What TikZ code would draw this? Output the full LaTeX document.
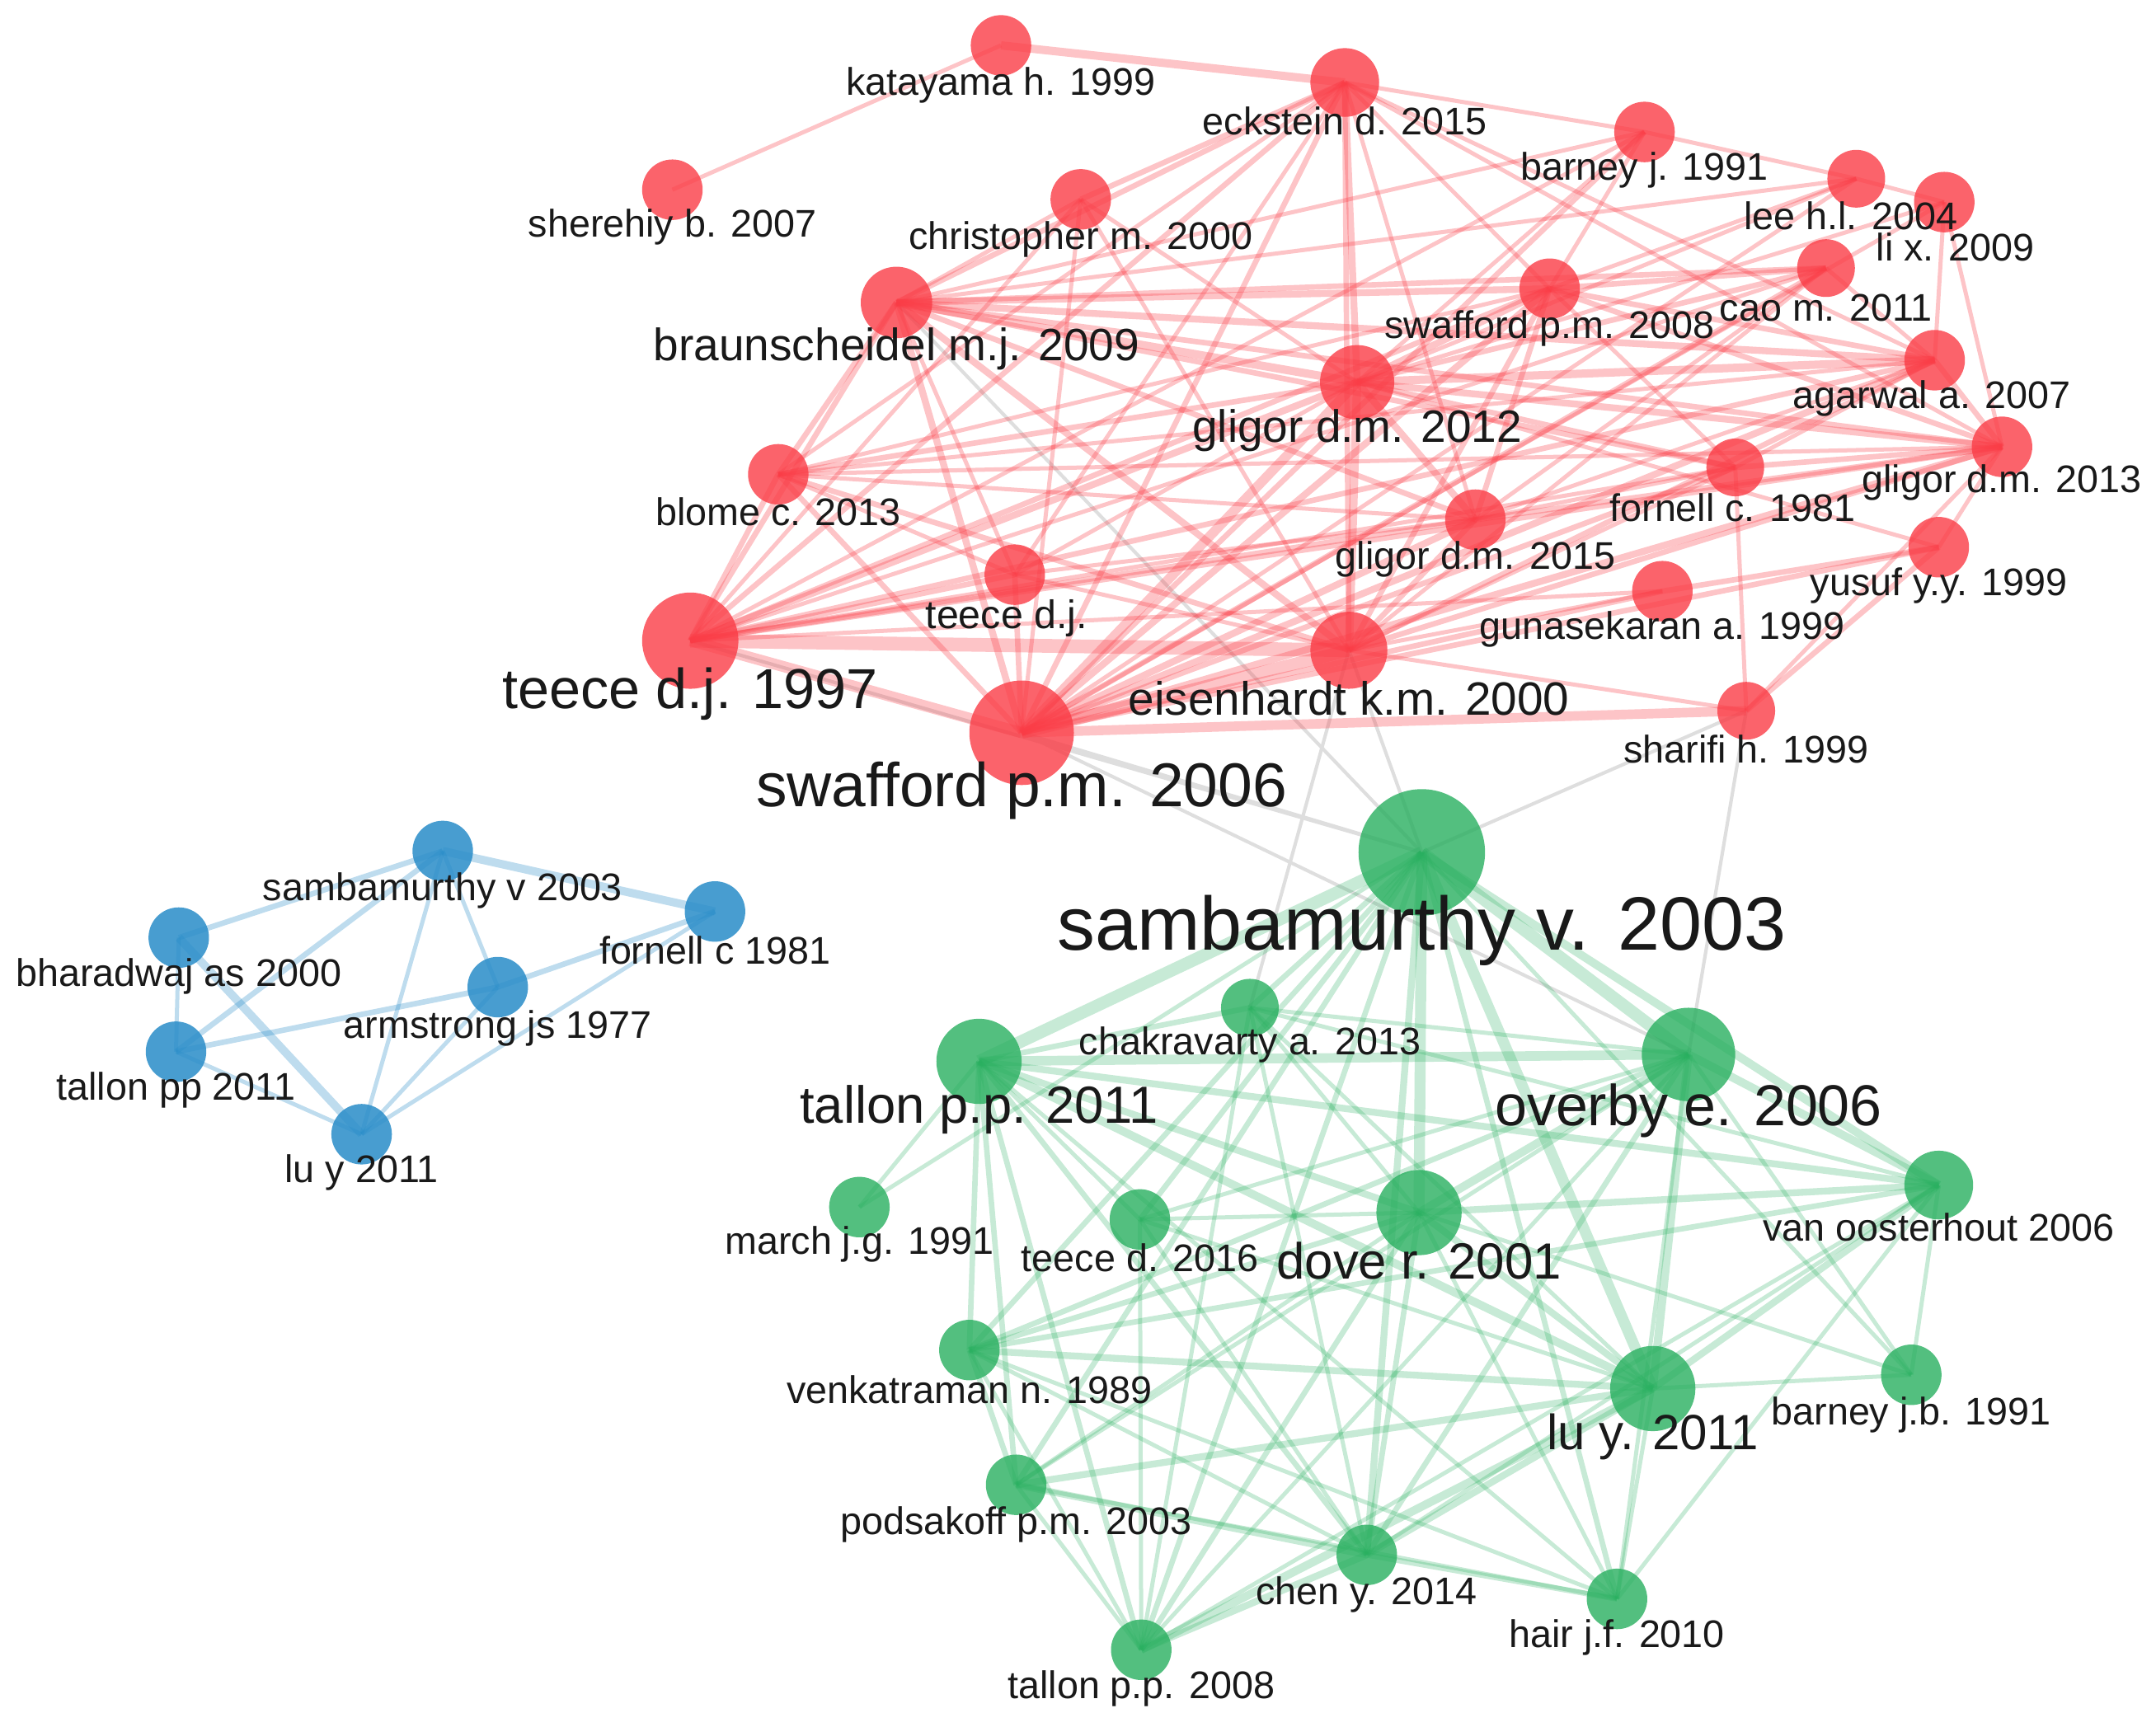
\documentclass[tikz,border=0pt]{standalone}
\usepackage{fontspec}
\setmainfont{Liberation Sans}
\usetikzlibrary{backgrounds}
\definecolor{rN}{RGB}{250,60,70}
\definecolor{gN}{RGB}{40,175,95}
\definecolor{bN}{RGB}{40,140,200}
\definecolor{xE}{RGB}{222,222,222}
\tikzset{
 nd/.style={circle, inner sep=0pt, draw=none, minimum size=#1},
 rn/.style={nd=#1, fill=rN, fill opacity=0.8},
 gn/.style={nd=#1, fill=gN, fill opacity=0.8},
 bn/.style={nd=#1, fill=bN, fill opacity=0.85},
 lab/.style={font=\fontsize{#1}{#1}\selectfont, inner sep=0pt, text=black!90},
 re/.style={draw=rN, draw opacity=0.3, line width=#1},
 ge/.style={draw=gN, draw opacity=0.26, line width=#1},
 be/.style={draw=bN, draw opacity=0.3, line width=#1},
 xe/.style={draw=xE, line width=#1},
}
\begin{document}
\begin{tikzpicture}[x=1pt,y=-1pt]
\useasboundingbox (0,0) rectangle (1568,1256);
% ---------------- red cluster nodes
\node[rn=44] (kat) at (728,33) {};
\node[rn=50] (eck) at (978,60) {};
\node[rn=44] (she) at (489,138) {};
\node[rn=44] (chr) at (786,145) {};
\node[rn=44] (bar) at (1196,96) {};
\node[rn=42] (lee) at (1350,130) {};
\node[rn=44] (lix) at (1414,147) {};
\node[rn=42] (cao) at (1328,195) {};
\node[rn=44] (sw8) at (1127,210) {};
\node[rn=52] (bra) at (652,220) {};
\node[rn=54] (g12) at (987,278) {};
\node[rn=44] (aga) at (1407,262) {};
\node[rn=44] (g13) at (1456,325) {};
\node[rn=44] (blo) at (566,345) {};
\node[rn=42] (frn) at (1262,340) {};
\node[rn=44] (g15) at (1073,378) {};
\node[rn=44] (yus) at (1410,398) {};
\node[rn=44] (tdj) at (738,418) {};
\node[rn=44] (gun) at (1209,430) {};
\node[rn=70] (t97) at (502,466) {};
\node[rn=56] (eis) at (981,473) {};
\node[rn=42] (sha) at (1270,517) {};
\node[rn=76] (sw6) at (743,533) {};
% ---------------- green cluster nodes
\node[gn=92] (sam) at (1034,620) {};
\node[gn=42] (cha) at (909,733) {};
\node[gn=62] (t11) at (712,772) {};
\node[gn=68] (ove) at (1228,767) {};
\node[gn=44] (mar) at (625,878) {};
\node[gn=44] (t16) at (829,887) {};
\node[gn=62] (dov) at (1032,882) {};
\node[gn=50] (van) at (1410,862) {};
\node[gn=44] (ven) at (705,982) {};
\node[gn=62] (luy) at (1202,1010) {};
\node[gn=44] (bjb) at (1390,1000) {};
\node[gn=44] (pod) at (739,1080) {};
\node[gn=44] (che) at (994,1131) {};
\node[gn=44] (hai) at (1176,1163) {};
\node[gn=44] (t08) at (830,1200) {};
% ---------------- blue cluster nodes
\node[bn=44] (bsa) at (322,619) {};
\node[bn=44] (bbh) at (130,682) {};
\node[bn=44] (bfo) at (520,663) {};
\node[bn=44] (bar2) at (362,718) {};
\node[bn=44] (btp) at (128,765) {};
\node[bn=44] (blu) at (263,825) {};
% ---------------- edges
\begin{scope}[on background layer]
\foreach \a/\b in {bra/sam, t97/sam, sw6/ove, eis/cha, eis/sam, sha/sam, sha/ove, sw6/sam}
  \draw[xe=2.5] (\a.center) -- (\b.center);
\foreach \a/\b/\w in {sw6/t97/8, sw6/eis/9, sw6/tdj/4, sw6/blo/4, sw6/bra/5, sw6/chr/3, sw6/eck/4,
  sw6/g12/7, sw6/g15/5, sw6/sw8/5, sw6/bar/4, sw6/cao/4, sw6/aga/5, sw6/g13/5, sw6/frn/4, sw6/yus/4,
  sw6/gun/4, sw6/sha/7, sw6/lee/3, sw6/lix/3,
  t97/eis/10, t97/blo/4, t97/bra/4, t97/tdj/4, t97/g12/5, t97/eck/4, t97/chr/3, t97/sw8/4, t97/g15/4,
  t97/aga/4, t97/cao/3, t97/g13/4, t97/frn/3, t97/gun/3, t97/bar/3,
  bra/eck/4, bra/chr/3, bra/g12/6, bra/sw8/5, bra/bar/3, bra/lee/3, bra/cao/4, bra/aga/5, bra/g13/4,
  bra/frn/4, bra/g15/4, bra/eis/5, bra/blo/4, bra/tdj/3,
  blo/eck/3, blo/g12/4, blo/sw8/3, blo/aga/3, blo/g13/3, blo/eis/4, blo/g15/3, blo/tdj/3,
  g12/eck/5, g12/sw8/5, g12/bar/3, g12/cao/4, g12/aga/6, g12/g13/5, g12/frn/4, g12/g15/5, g12/eis/6,
  g12/lee/3, g12/lix/3, g12/tdj/3, g12/yus/3,
  eck/bar/3, eck/sw8/3, eck/chr/4, eck/kat/6, eck/tdj/3, eck/eis/4, eck/g15/3, eck/aga/3, eck/g13/3,
  kat/she/3,
  sw8/bar/3, sw8/lee/3, sw8/cao/4, sw8/aga/4, sw8/g13/4, sw8/frn/3, sw8/eis/4, sw8/g15/4,
  bar/lee/3, lee/lix/3, lix/aga/3, lix/g13/3, cao/aga/3, cao/eis/3, cao/g15/3,
  aga/g13/4, aga/eis/4, aga/g15/3, aga/frn/3,
  g13/g15/4, g13/frn/4, g13/yus/3, g13/eis/4, g13/sha/3,
  frn/sha/3, frn/eis/3, frn/g15/3,
  yus/gun/4, yus/sha/4, gun/eis/3,
  eis/g15/4, eis/tdj/3, eis/sha/3, tdj/g15/3, chr/g12/3, chr/eis/3}
  \draw[re=\w] (\a.center) -- (\b.center);
\foreach \a/\b/\w in {sam/t11/9, sam/ove/9, sam/cha/4, sam/dov/8, sam/luy/8, sam/van/6, sam/t16/4,
  sam/mar/3, sam/ven/4, sam/pod/4, sam/che/5, sam/hai/4, sam/t08/4, sam/bjb/3,
  t11/ove/7, t11/cha/4, t11/dov/5, t11/luy/6, t11/van/5, t11/t16/3, t11/mar/3, t11/ven/4, t11/pod/4,
  t11/che/4, t11/hai/3, t11/t08/4,
  ove/cha/3, ove/dov/6, ove/luy/6, ove/van/6, ove/ven/4, ove/pod/3, ove/che/4, ove/hai/3, ove/t08/3,
  ove/bjb/3, ove/t16/3,
  dov/luy/5, dov/van/5, dov/ven/4, dov/pod/3, dov/che/4, dov/hai/3, dov/t08/4, dov/t16/3, dov/cha/3,
  luy/van/5, luy/ven/5, luy/pod/5, luy/che/5, luy/hai/3, luy/t08/6, luy/bjb/3,
  van/ven/4, van/che/3, van/t08/3, van/bjb/3, van/hai/3, van/cha/3,
  ven/pod/4, ven/che/3, ven/t08/3, ven/hai/3,
  pod/che/5, pod/t08/3, pod/hai/3, che/hai/4, che/t08/5,
  t16/che/3, t16/t08/3, t16/luy/3, cha/che/3, cha/luy/3, cha/t08/3, bjb/dov/3}
  \draw[ge=\w] (\a.center) -- (\b.center);
\foreach \a/\b/\w in {bsa/bbh/4, bsa/bfo/6, bsa/bar2/3, bsa/blu/3, bsa/btp/4, bbh/btp/3, bbh/blu/6,
  btp/bar2/4, bar2/bfo/4, btp/blu/3, blu/bar2/3, blu/bfo/3}
  \draw[be=\w] (\a.center) -- (\b.center);
\end{scope}
% ---------------- labels
\node[lab=28] (lkat) at (728,62) {katayama h. 1999};
\node[lab=28] (leck) at (978,88) {eckstein d. 2015};
\node[lab=28] (lshe) at (489,165) {sherehiy b. 2007};
\node[lab=28] (lchr) at (786,174) {christopher m. 2000};
\node[lab=28] (lbar) at (1196,124) {barney j. 1991};
\node[lab=28] (llee) at (1346,157) {lee h.l. 2004};
\node[lab=28] (llix) at (1422,180) {li x. 2009};
\node[lab=28] (lcao) at (1328,224) {cao m. 2011};
\node[lab=28] (lsw8) at (1127,239) {swafford p.m. 2008};
\node[lab=33] (lbra) at (652,254) {braunscheidel m.j. 2009};
\node[lab=33] (lg12) at (987,313) {gligor d.m. 2012};
\node[lab=28] (laga) at (1405,290) {agarwal a. 2007};
\node[lab=28] (lg13) at (1456,351) {gligor d.m. 2013};
\node[lab=28] (lblo) at (566,372) {blome c. 2013};
\node[lab=28] (lfrn) at (1260,369) {fornell c. 1981};
\node[lab=28] (lg15) at (1073,407) {gligor d.m. 2015};
\node[lab=28] (lyus) at (1410,426) {yusuf y.y. 1999};
\node[lab=29] (ltdj) at (732,450) {teece d.j.};
\node[lab=28] (lgun) at (1209,458) {gunasekaran a. 1999};
\node[lab=41] (lt97) at (502,505) {teece d.j. 1997};
\node[lab=34] (leis) at (981,508) {eisenhardt k.m. 2000};
\node[lab=28] (lsha) at (1270,545) {sharifi h. 1999};
\node[lab=45] (lsw6) at (743,575) {swafford p.m. 2006};
\node[lab=55] (lsam) at (1034,677) {sambamurthy v. 2003};
\node[lab=28] (lcha) at (909,760) {chakravarty a. 2013};
\node[lab=38] (lt11) at (712,807) {tallon p.p. 2011};
\node[lab=42] (love) at (1228,808) {overby e. 2006};
\node[lab=28] (lmar) at (625,905) {march j.g. 1991};
\node[lab=28] (lt16) at (829,915) {teece d. 2016};
\node[lab=37] (ldov) at (1032,917) {dove r. 2001};
\node[lab=28] (lvan) at (1410,893) {van oosterhout 2006};
\node[lab=28] (lven) at (705,1011) {venkatraman n. 1989};
\node[lab=36] (lluy) at (1202,1045) {lu y. 2011};
\node[lab=28] (lbjb) at (1390,1029) {barney j.b. 1991};
\node[lab=28] (lpod) at (739,1109) {podsakoff p.m. 2003};
\node[lab=28] (lche) at (994,1160) {chen y. 2014};
\node[lab=28] (lhai) at (1176,1191) {hair j.f. 2010};
\node[lab=28] (lt08) at (830,1228) {tallon p.p. 2008};
\node[lab=28] (lbsa) at (322,648) {sambamurthy v 2003};
\node[lab=28] (lbbh) at (130,710) {bharadwaj as 2000};
\node[lab=28] (lbfo) at (520,691) {fornell c 1981};
\node[lab=28] (lbar2) at (362,748) {armstrong js 1977};
\node[lab=28] (lbtp) at (128,793) {tallon pp 2011};
\node[lab=28] (lblu) at (263,853) {lu y 2011};
\end{tikzpicture}
\end{document}
